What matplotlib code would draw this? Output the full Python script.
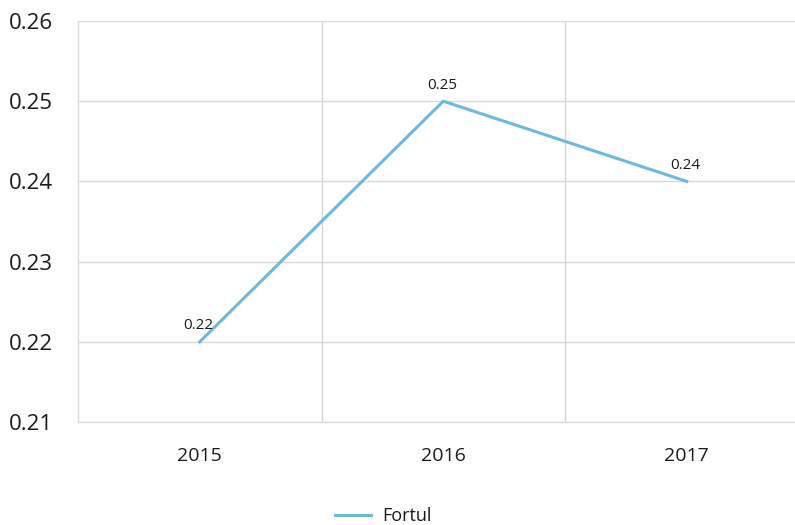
import matplotlib.pyplot as plt

years = ["2015", "2016", "2017"]
fortul = [0.22, 0.25, 0.24]
y_ticks = [0.21, 0.22, 0.23, 0.24, 0.25, 0.26]

plt.rcParams['font.family'] = ['Open Sans', 'DejaVu Sans']

fig = plt.figure(figsize=(7.95, 5.25), dpi=100)
ax = fig.add_axes([78 / 795, 1 - 422 / 525, (795 - 78) / 795, (422 - 21) / 525])

x = list(range(len(years)))
ax.plot(x, fortul, color="#6cb8df", linewidth=2.2, label="Fortul", zorder=3)
for xi, v in zip(x, fortul):
    ax.annotate(f"{v:.2f}", (xi, v), xytext=(-1, 6), textcoords="offset points",
                ha="center", va="bottom", fontsize=11, color="#1a1a1a")

ax.set_xlim(-0.5, (795 - 78) / 243.5 - 0.5)
ax.set_ylim(0.21, 0.26)
ax.set_yticks(y_ticks)
ax.set_yticklabels([f"{t:.2f}" for t in y_ticks], fontsize=16, color="#1a1a1a")
ax.set_xticks(x)
ax.set_xticklabels(years, fontsize=14, color="#1a1a1a")
ax.set_xticks([0.5, 1.5], minor=True)

ax.tick_params(axis="both", which="both", length=0)
ax.tick_params(axis="y", pad=18)
ax.tick_params(axis="x", pad=18)

ax.grid(axis="y", which="major", color="#d9d9d9", linewidth=1)
ax.grid(axis="x", which="minor", color="#d6d6d6", linewidth=1)
ax.set_axisbelow(True)

for side in ["top", "right"]:
    ax.spines[side].set_visible(False)
for side in ["left", "bottom"]:
    ax.spines[side].set_color("#d9d9d9")
    ax.spines[side].set_linewidth(1)

fig.legend(loc="center", bbox_to_anchor=(383 / 795, 1 - 516 / 525), frameon=False,
           fontsize=13, handlelength=2.0, handletextpad=0.6, labelcolor="#1a1a1a")

fig.savefig("out.png", dpi=100)
